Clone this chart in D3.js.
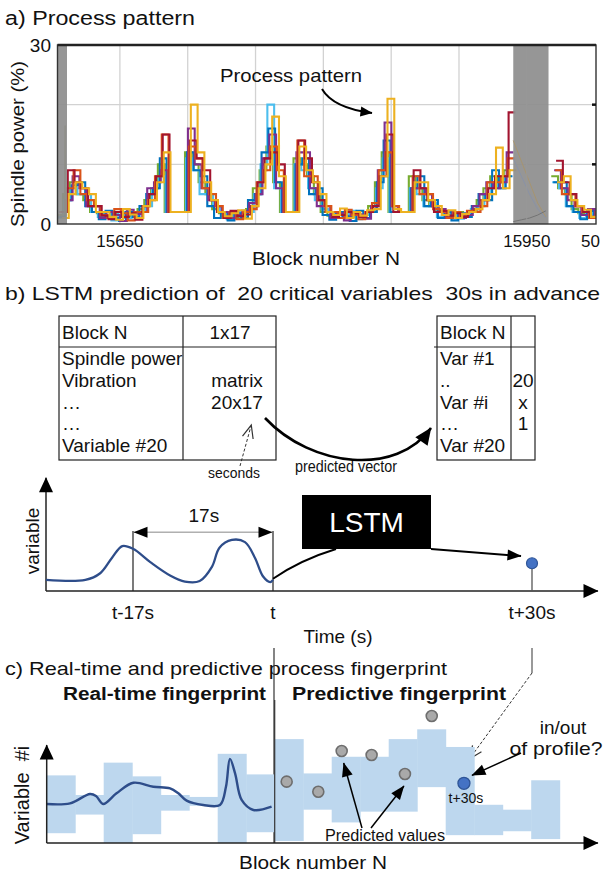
<!DOCTYPE html>
<html><head><meta charset="utf-8">
<script src="https://cdn.jsdelivr.net/npm/d3@7"></script>
<style>body{margin:0;background:#fff}svg{display:block}text{font-family:Arial,"Liberation Sans",Helvetica,sans-serif;fill:#111}</style>
</head><body><svg id="c" width="604" height="877"></svg>
<script>
// ---------------- DATA ----------------
// Panel a: spindle power, 7 plotted signals, 5-block bins starting at block 15605
const blockStart = 15605, blockStep = 5;
const gridBlocks = [15650, 15700, 15750, 15800, 15850, 15900, 15950];
const gridPower = [10, 20];
const xTickBlocks = [15650, 15950, 15997];
const xTickLabels = ["15650", "15950", "50"];
const yTickValues = [30, 0];
const yTickLabels = ["30", "0"];
const shadedRanges = [[15604, 15611], [15940, 15966]];
const N = null;
const sBlue   = [1.2,4,6.5,7,3,2,0.8,2.2,1,0.5, 2,1.2,3,5,6,11,2,2,2,12, 9,8,3,1,2,0.6,1.8,1,4,5, 12,16,7,2,2,10,11,5,6,1.5, 0.7,2,1.3,0.5,2.2,1,2,7,14,2, 2,2,6,8,3,4,1,2,0.6,1.8, 1.2,3,5,4,9,6,8, N,N,N,N,N,N, 7,7,3,2,0.8,2.2,1];
const sOrange = [2,6,9,5,4,3,1.5,1,2.5,1.8, 0.6,2,2,4,8,15,2,2,2,13, 11,6,5,3,1,2,0.8,2,2.5,7, 9,13,9,2,2,14,8,8,4,3, 2,1,2.4,1.5,0.8,2,3.5,9,12,3, 2,2,8,5,5,2.5,2,1,2,1.3, 2.2,2,3,7,7,8,11, N,N,N,N,N,N, 9,5,5,3,2,1,2];
const sYellow = [1,5,7,6,5,2,2,1.2,0.7,2.5, 1.6,1,3,4,7,12,2,2,2,20, 12,7,4,2,1.3,1.8,2.3,0.9,3,6, 10,18,8,2,2,13,9,7,5,2, 1.5,2.6,1,2,1.4,2.3,2.5,8,21,2.5, 2,2,7,7,4,3,1.5,2.3,1,1.7, 2,2.5,4,5,12.8,6,9, N,N,N,N,N,N, 7,8,4,3,2.4,1.2,1.8];
const sPurple = [2,4,8,6,3,3,1,2,1.5,0.5, 2.4,1.7,2,6,7,9,2,2,2,16, 10,6,4,3,2,1,1.5,2.2,3.5,5, 11,15,6,2,2,12,12,6,3,3, 1,1.8,0.6,2,1.6,0.9,3,9,17,3, 2,2,6,6,5,3,2.5,1,2,1, 1.5,3,5,7,6,7,12, N,N,N,N,N,N, 9,6,4,3,1.5,2.5,1];
const sGreen  = [1.5,5,7,5,4,2,1.8,1.3,2,1.5, 1.2,2,2.5,4,6,10,2,2,2,12, 10,7,5,2.5,1.8,1.5,1,1.8,2.5,6, 9,13,7,2,2,11,10,8,5,2, 1.4,1.8,2,1.2,1.6,1.5,3,7,12,2, 2,2,8,6,4,3,2,1.6,1.4,2, 1.3,2,4,6,8,7,9, N,N,N,N,N,N, 8,6,5,2.5,1.8,1.5,2];
const sCyan   = [1,4,6,5,5,2,1.2,2,0.6,2, 1,1.4,2,3,6,8,2,2,2,11, 9,5,5,3,2,0.8,2,1.2,2,5, 10,20,6,2,2,10,9,6,4,2.5, 2,1,1.7,2.2,0.8,1.5,2,6,11,2, 2,2,6,5,3,3.5,1.2,2,1.5,0.9, 1.8,2.5,3,5,7,6,8, N,N,N,N,N,N, 7,6,3,2,1,2,1.5];
const sRed    = [2,9,7,6,3,3,1.4,0.8,2,1.2, 1.8,0.7,3,5,8,15,2,2,2,14, 11,9,4,2,1,2.2,1.3,1.6,3,7, 11,12,10,2,2,14,11,7,4,2, 1.2,1.5,2,1.8,1.2,2,3,8,15,2, 2,2,9,6,4,2,2.2,1.4,1.8,1.2, 2,2.5,4,6,8,8,18.7, N,N,N,N,N,N, 10.6,7,5,3,2,1.2,1.6];
const seriesList = [sBlue, sOrange, sYellow, sPurple, sGreen, sCyan, sRed];
const seriesColors = ["#0072BD", "#D95319", "#EDB120", "#7E2F8E", "#77AC30", "#4DBEEE", "#A2142F"];
const drawOrder = [4, 5, 0, 3, 1, 6, 2];
const bandBlocks = [15940, 15946, 15952, 15958, 15964];
const bandLineA = [14, 10.5, 7, 3.5, 1.2];
const bandLineB = [11, 8, 5, 2.5, 1];
const bandLineC = [0.4, 0.7, 1.0, 1.5, 2.2];
const leftBandBlocks = [15604, 15609, 15609.6, 15610.2, 15611];
const leftBandValues = [1.5, 1.5, 16.5, 1.5, 1.5];

// Panel b
const leftHeader = ["Block N", "1x17"];
const leftRows = ["Spindle power", "Vibration", "\u2026", "\u2026", "Variable #20"];
const leftMatrix = ["matrix", "20x17"];
const rightHeader = "Block N";
const rightRows = ["Var #1", "..", "Var #i", "\u2026", "Var #20"];
const rightCol = ["", "20", "x", "1", ""];
const timeTicks = [-17, 0, 30];
const timeTickLabels = ["t-17s", "t", "t+30s"];
const waveTimes  = [-27.6,-22.8,-21.0,-19.55,-18.3,-17.0,-14.9,-12.5,-10.7,-8.9,-7.4,-6.5,-5.0,-3.4,-2.2,-1.2,-0.35,0];
const waveValues = [1.0,1.0,1.6,3.0,4.05,3.8,2.6,1.4,0.85,0.9,2.2,3.9,4.6,4.4,3.0,1.3,0.8,1.0];
const predTime = 30, predValue = 2.5;

// Panel c
const fpLow  = [1.0,2.9,0,0.9,3.3,3.8,0,1.1, 0.2,3.4,2.1,3.2,3.2,5.7,0.8,0.8,1.2,0.4];
const fpHigh = [6.9,4.9,8.2,6.8,4.9,4.7,9.1,7.0, 10.6,7.1,8.8,8.8,10.6,11.6,9.8,3.9,3.4,6.4];
const rtBlocks = [0,0.82,1.52,1.73,1.98,2.45,3.04,3.74,4.33,4.62,4.91,5.49,6.08,6.29,6.43,6.61,6.84,7.25,7.89];
const rtValues = [3.98,4.05,5.0,4.8,3.98,5.07,6.15,5.74,5.58,5.07,4.32,3.88,3.88,5.74,8.58,7.11,4.39,3.37,3.71];
const predBlocks = [8.42, 9.53, 10.35, 11.4, 12.57, 13.51];
const predValues = [6.26, 5.23, 9.39, 8.98, 7.04, 12.96];
const futureBlock = 14.64, futureValue = 6.09;

// ---------------- DRAW ----------------
const svg = d3.select("#c");
svg.append("rect").attr("width", 604).attr("height", 877).attr("fill", "#fff");
const defs = svg.append("defs");
function marker(id, w, h, open) {
  const m = defs.append("marker").attr("id", id).attr("markerUnits", "userSpaceOnUse")
    .attr("viewBox", `0 0 ${w} ${h}`).attr("refX", open ? w - 1 : w - 0.5).attr("refY", h / 2)
    .attr("markerWidth", w).attr("markerHeight", h).attr("orient", "auto-start-reverse")
    .style("overflow", "visible");
  if (open) m.append("path").attr("d", `M0,0L${w},${h / 2}L0,${h}`).attr("fill", "none").attr("stroke", "#333").attr("stroke-width", 1.2);
  else m.append("path").attr("d", `M0,0L${w},${h / 2}L0,${h}Z`).attr("fill", "#000");
}
marker("ahBig", 17, 15); marker("ahMid", 14, 11); marker("ahSmall", 12, 10); marker("ahAxis", 15, 14); marker("ahOpen", 13, 11, true);

function txt(g, x, y, s, size, opts = {}) {
  const t = g.append("text").attr("x", x).attr("y", y).text(s).attr("font-size", size);
  if (opts.anchor) t.attr("text-anchor", opts.anchor);
  if (opts.weight) t.attr("font-weight", opts.weight);
  if (opts.len) t.attr("textLength", opts.len).attr("lengthAdjust", opts.adj || "spacingAndGlyphs");
  if (opts.fill) t.style("fill", opts.fill);
  if (opts.rotate) t.attr("transform", `rotate(-90,${x},${y})`);
  return t;
}

// ===== Panel a =====
const A = { x0: 57.5, x1: 596, y0: 45, y1: 224 };
const xA = d3.scaleLinear().domain([15604, 16001]).range([A.x0, A.x1]);
const yA = d3.scaleLinear().domain([0, 30]).range([A.y1, A.y0]);
const gA = svg.append("g");
txt(gA, 5, 25, "a) Process pattern", 20, { len: 190 });
defs.append("clipPath").attr("id", "clipA").append("rect").attr("x", A.x0).attr("y", A.y0).attr("width", A.x1 - A.x0).attr("height", A.y1 - A.y0);
const plotA = gA.append("g").attr("clip-path", "url(#clipA)");
plotA.selectAll("line.vg").data(gridBlocks).join("line").attr("class", "vg")
  .attr("x1", d => xA(d)).attr("x2", d => xA(d)).attr("y1", A.y0).attr("y2", A.y1)
  .attr("stroke", "#d2d2d2").attr("stroke-width", 1.3);
plotA.selectAll("line.hg").data(gridPower).join("line").attr("class", "hg")
  .attr("x1", A.x0).attr("x2", A.x1).attr("y1", d => yA(d)).attr("y2", d => yA(d))
  .attr("stroke", "#d2d2d2").attr("stroke-width", 1.3);

const lineA = d3.line().defined(d => d.v != null).x(d => xA(d.b)).y(d => yA(d.v));
drawOrder.forEach((k, j) => {
  const phase = j * blockStep / drawOrder.length; // each signal sampled at its own phase
  const pts = [];
  seriesList[k].forEach((v, i) => {
    const b = blockStart + i * blockStep + phase - 2;
    if (v == null) { pts.push({ b, v: null }); return; }
    pts.push({ b, v }); pts.push({ b: b + blockStep, v });
  });
  plotA.append("path").datum(pts).attr("d", lineA).attr("fill", "none")
    .attr("stroke", seriesColors[k]).attr("stroke-width", 2.1).attr("stroke-linejoin", "miter");
});
plotA.append("path").datum(leftBandBlocks.map((b, i) => ({ b, v: leftBandValues[i] }))).attr("d", lineA)
  .attr("fill", "none").attr("stroke", "#8a8a3a").attr("stroke-width", 1);
plotA.selectAll("rect.band").data(shadedRanges).join("rect").attr("class", "band")
  .attr("x", d => xA(d[0])).attr("width", d => xA(d[1]) - xA(d[0]))
  .attr("y", A.y0).attr("height", A.y1 - A.y0).attr("fill", "#8e8e8e").attr("opacity", 0.93);
[[bandLineA, "#a8936a"], [bandLineB, "#8791a8"], [bandLineC, "#6f6f6f"]].forEach(([arr, col]) => {
  plotA.append("path").datum(bandBlocks.map((b, i) => ({ b, v: arr[i] }))).attr("d", lineA)
    .attr("fill", "none").attr("stroke", col).attr("stroke-width", 1).attr("opacity", 0.9);
});
plotA.append("line").attr("x1", xA(gridBlocks[6])).attr("x2", xA(gridBlocks[6])).attr("y1", A.y0).attr("y2", A.y1)
  .attr("stroke", "#9a9a9a").attr("stroke-width", 1);
// box
gA.append("rect").attr("x", A.x0).attr("y", A.y0).attr("width", A.x1 - A.x0).attr("height", A.y1 - A.y0)
  .attr("fill", "none").attr("stroke", "#333").attr("stroke-width", 1.4);
gA.append("line").attr("x1", A.x0).attr("x2", A.x1).attr("y1", A.y0).attr("y2", A.y0).attr("stroke", "#222").attr("stroke-width", 2.4);
gA.selectAll("line.rt").data(gridPower).join("line").attr("class", "rt")
  .attr("x1", A.x1 - 4).attr("x2", A.x1).attr("y1", d => yA(d)).attr("y2", d => yA(d)).attr("stroke", "#111").attr("stroke-width", 2.5);
xTickBlocks.forEach((b, i) => txt(gA, xA(b), 247, xTickLabels[i], 17, { anchor: "middle" }));
yTickValues.forEach((v, i) => txt(gA, 51, yA(v) + 7, yTickLabels[i], 19, { anchor: "end" }));
txt(gA, 24, 144, "Spindle power (%)", 19, { anchor: "middle", rotate: true, len: 166 });
txt(gA, 326, 265, "Block number N", 19, { anchor: "middle", len: 148 });
txt(gA, 291, 82, "Process pattern", 19, { anchor: "middle", len: 142 });
gA.append("path").attr("d", "M322,89 Q333,108 372,113").attr("fill", "none").attr("stroke", "#000")
  .attr("stroke-width", 2).attr("marker-end", "url(#ahSmall)");

// ===== Panel b =====
const gB = svg.append("g");
txt(gB, 5, 300, "b) LSTM prediction of  20 critical variables  30s in advance", 19, { len: 595 }).attr("xml:space", "preserve");
const LT = { x0: 59, xm: 183, x1: 276, y0: 316, yh: 347, y1: 460 };
gB.append("rect").attr("x", LT.x0).attr("y", LT.y0).attr("width", LT.x1 - LT.x0).attr("height", LT.y1 - LT.y0)
  .attr("fill", "none").attr("stroke", "#222").attr("stroke-width", 1.2);
gB.append("line").attr("x1", LT.xm).attr("x2", LT.xm).attr("y1", LT.y0).attr("y2", LT.y1).attr("stroke", "#222").attr("stroke-width", 1.2);
gB.append("line").attr("x1", LT.x0).attr("x2", LT.x1).attr("y1", LT.yh).attr("y2", LT.yh).attr("stroke", "#222").attr("stroke-width", 1.2);
const rowY = i => 365 + i * 21.8;
txt(gB, 62, 339, leftHeader[0], 19);
txt(gB, 230, 339, leftHeader[1], 19, { anchor: "middle" });
leftRows.forEach((s, i) => txt(gB, 62, rowY(i), s, 19));
leftMatrix.forEach((s, i) => txt(gB, 237, rowY(i + 1), s, 19, { anchor: "middle" }));
const RT = { x0: 437, xm: 511, x1: 535, y0: 316, yh: 347, y1: 460 };
gB.append("rect").attr("x", RT.x0).attr("y", RT.y0).attr("width", RT.x1 - RT.x0).attr("height", RT.y1 - RT.y0)
  .attr("fill", "none").attr("stroke", "#222").attr("stroke-width", 1.2);
gB.append("line").attr("x1", RT.xm).attr("x2", RT.xm).attr("y1", RT.y0).attr("y2", RT.y1).attr("stroke", "#222").attr("stroke-width", 1.2);
gB.append("line").attr("x1", RT.x0 - 3).attr("x2", RT.x1).attr("y1", RT.yh).attr("y2", RT.yh).attr("stroke", "#222").attr("stroke-width", 1.2);
txt(gB, 440, 339, rightHeader, 19);
rightRows.forEach((s, i) => txt(gB, 440, rowY(i), s, 19));
rightCol.forEach((s, i) => txt(gB, 523, rowY(i), s, 19, { anchor: "middle" }));
txt(gB, 234, 478, "seconds", 15, { anchor: "middle", len: 52 });
txt(gB, 346, 472, "predicted vector", 17, { anchor: "middle", len: 102 }).attr("xml:space", "preserve");
gB.append("path").attr("d", "M240,466 L251,426").attr("stroke", "#333").attr("stroke-width", 1)
  .attr("stroke-dasharray", "3,2").attr("fill", "none").attr("marker-end", "url(#ahOpen)");
gB.append("path").attr("d", "M265,418 C312,468 397,476 431,428").attr("fill", "none").attr("stroke", "#000")
  .attr("stroke-width", 2.6).attr("marker-end", "url(#ahBig)");

// time sketch
const xT = d3.scaleLinear().domain([-27.6, -17, 0, 30, 38.8]).range([46, 133, 273, 532, 598]);
const yT = d3.scaleLinear().domain([0, 10]).range([591, 480]);
gB.append("line").attr("x1", xT(-27.6)).attr("x2", xT(-27.6)).attr("y1", yT(0)).attr("y2", yT(10.2))
  .attr("stroke", "#222").attr("stroke-width", 1.5).attr("marker-end", "url(#ahAxis)");
gB.append("line").attr("x1", xT(-27.6)).attr("x2", xT(38.8)).attr("y1", yT(0)).attr("y2", yT(0))
  .attr("stroke", "#222").attr("stroke-width", 1.5).attr("marker-end", "url(#ahAxis)");
[-17, 0].forEach(t => gB.append("line").attr("x1", xT(t)).attr("x2", xT(t)).attr("y1", yT(5.4)).attr("y2", yT(0))
  .attr("stroke", "#222").attr("stroke-width", 1.2));
gB.append("line").attr("x1", xT(-17) + 1).attr("x2", xT(0) - 1).attr("y1", yT(5.3)).attr("y2", yT(5.3))
  .attr("stroke", "#888").attr("stroke-width", 1)
  .attr("marker-start", "url(#ahMid)").attr("marker-end", "url(#ahMid)");
txt(gB, xT(-8.4), 522, "17s", 19, { anchor: "middle" });
const waveLine = d3.line().x((d, i) => xT(waveTimes[i])).y(d => yT(d)).curve(d3.curveCatmullRom.alpha(0.5));
gB.append("path").datum(waveValues).attr("d", waveLine).attr("fill", "none").attr("stroke", "#2e4d8a").attr("stroke-width", 2.3);
timeTicks.forEach((t, i) => txt(gB, xT(t), 619, timeTickLabels[i], 19, { anchor: "middle" }));
txt(gB, 338, 643, "Time (s)", 19, { anchor: "middle" });
txt(gB, 39, 541, "variable", 19, { anchor: "middle", rotate: true });
gB.append("path").attr("d", `M${xT(0)},${yT(1.1)} Q300,560 336,549`).attr("fill", "none").attr("stroke", "#000").attr("stroke-width", 2);
gB.append("rect").attr("x", 302).attr("y", 495).attr("width", 129).attr("height", 54).attr("fill", "#000");
txt(gB, 366.5, 532, "LSTM", 28, { anchor: "middle", fill: "#fff" });
gB.append("line").attr("x1", 431).attr("y1", 549).attr("x2", 521).attr("y2", 556).attr("stroke", "#000").attr("stroke-width", 2)
  .attr("marker-end", "url(#ahMid)");
gB.append("line").attr("x1", xT(predTime)).attr("x2", xT(predTime)).attr("y1", yT(predValue)).attr("y2", yT(0)).attr("stroke", "#555").attr("stroke-width", 1.3);
gB.append("circle").attr("cx", xT(predTime)).attr("cy", yT(predValue)).attr("r", 5.5).attr("fill", "#4472c4").attr("stroke", "#2f5597").attr("stroke-width", 1.2);

// ===== Panel c =====
const gC = svg.append("g");
const xF = d3.scaleLinear().domain([0, 18]).range([46.7, 559.7]);
const yF = d3.scaleLinear().domain([0, 10]).range([843, 745]);
gC.append("line").attr("x1", xT(0) + 1).attr("x2", xT(0) + 1).attr("y1", 648).attr("y2", yF(0)).attr("stroke", "#333").attr("stroke-width", 1.2);
gC.append("line").attr("x1", xT(predTime)).attr("x2", xT(predTime)).attr("y1", 648).attr("y2", 673).attr("stroke", "#555").attr("stroke-width", 1.2);
gC.append("path").attr("d", `M${xT(predTime)},673 L${xF(futureBlock) + 6},${yF(futureValue) - 25}`).attr("fill", "none")
  .attr("stroke", "#333").attr("stroke-width", 1).attr("stroke-dasharray", "3,2").attr("marker-end", "url(#ahOpen)");
txt(gC, 5, 675, "c) Real-time and predictive process fingerprint", 19, { len: 442 });
gC.selectAll("rect.fp").data(fpLow).join("rect").attr("class", "fp")
  .attr("x", (d, i) => xF(i)).attr("width", (d, i) => xF(i + 1) - xF(i) + 0.5)
  .attr("y", (d, i) => yF(fpHigh[i])).attr("height", (d, i) => yF(d) - yF(fpHigh[i]))
  .attr("fill", "#bdd7ee");
gC.append("line").attr("x1", xF(8)).attr("x2", xF(8)).attr("y1", 700).attr("y2", yF(0)).attr("stroke", "#333").attr("stroke-width", 1.2);
const rtLine = d3.line().x((d, i) => xF(rtBlocks[i])).y(d => yF(d)).curve(d3.curveCatmullRom.alpha(0.5));
gC.append("path").datum(rtValues).attr("d", rtLine).attr("fill", "none").attr("stroke", "#2e4d8a").attr("stroke-width", 2.4);
gC.append("line").attr("x1", xF(0)).attr("x2", xF(0)).attr("y1", yF(0)).attr("y2", yF(10))
  .attr("stroke", "#222").attr("stroke-width", 1.5).attr("marker-end", "url(#ahAxis)");
gC.append("line").attr("x1", xF(0)).attr("x2", 598).attr("y1", yF(0)).attr("y2", yF(0))
  .attr("stroke", "#222").attr("stroke-width", 1.5).attr("marker-end", "url(#ahAxis)");
txt(gC, 63, 700, "Real-time fingerprint", 18, { weight: "bold", len: 203 });
txt(gC, 292, 700, "Predictive fingerprint", 18, { weight: "bold", len: 214 });
predBlocks.forEach((b, i) => gC.append("circle").attr("cx", xF(b)).attr("cy", yF(predValues[i])).attr("r", 5.5)
  .attr("fill", "#a9a9a9").attr("stroke", "#6e6e6e").attr("stroke-width", 1.6));
gC.append("circle").attr("cx", xF(futureBlock)).attr("cy", yF(futureValue)).attr("r", 6)
  .attr("fill", "#4472c4").attr("stroke", "#2f5597").attr("stroke-width", 1.3);
txt(gC, xF(futureBlock) + 2, 803, "t+30s", 14, { anchor: "middle" });
txt(gC, 385, 841, "Predicted values", 16, { anchor: "middle", len: 120 });
[[2, 0], [4, 1]].forEach(([k, j]) => {
  const x0 = j === 0 ? 362 : 371;
  gC.append("line").attr("x1", x0).attr("y1", 828).attr("x2", xF(predBlocks[k]) + (j === 0 ? 2 : -1)).attr("y2", yF(predValues[k]) + 12)
    .attr("stroke", "#000").attr("stroke-width", 1.5).attr("marker-end", "url(#ahMid)");
});
txt(gC, 563, 734, "in/out", 19, { anchor: "middle" });
txt(gC, 556, 755, "of profile?", 19, { anchor: "middle", len: 93 });
gC.append("line").attr("x1", 521).attr("y1", 753).attr("x2", xF(futureBlock) + 8).attr("y2", yF(futureValue) - 8)
  .attr("stroke", "#000").attr("stroke-width", 1.5).attr("marker-end", "url(#ahMid)");
txt(gC, 29, 795, "Variable  #i", 20, { anchor: "middle", rotate: true }).attr("xml:space", "preserve");
txt(gC, 313, 869, "Block number N", 19, { anchor: "middle", len: 148 });
</script></body></html>
